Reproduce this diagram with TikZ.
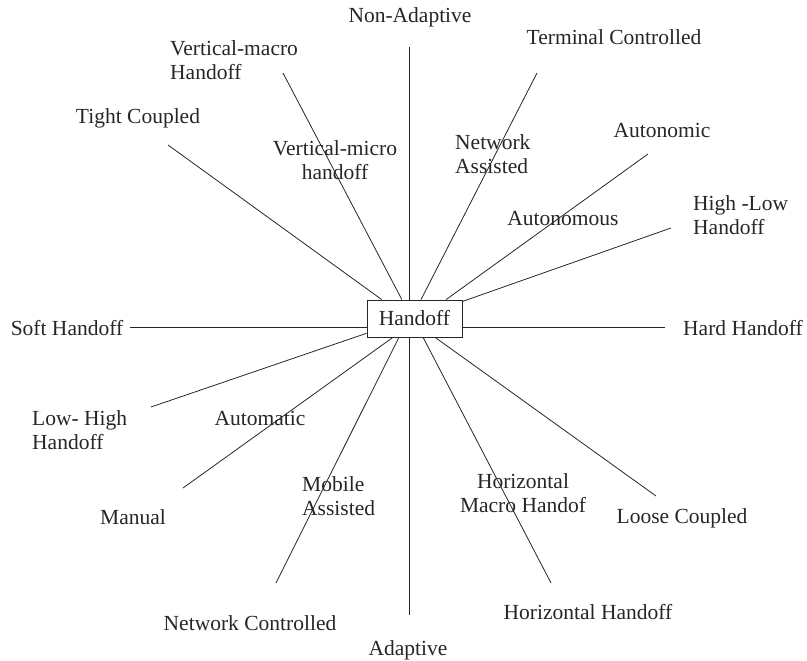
\documentclass[tikz,border=0pt]{standalone}
\usepackage{fontspec}
\setmainfont{Liberation Serif}
\usetikzlibrary{calc}
\begin{document}
\begin{tikzpicture}[x=1pt,y=-1pt,
  lbl/.style={inner sep=0pt,text=black!85,font=\fontsize{21.5}{24}\selectfont},
  lblc/.style={lbl,align=center},
  lbll/.style={lbl,align=left,anchor=west},
  spoke/.style={draw=black!85,line width=0.8pt},
  hubbox/.style={draw=black!85,line width=0.9pt,minimum width=95pt,minimum height=37pt,inner sep=0pt,
    text=black!85,font=\fontsize{21.5}{24}\selectfont}]
\useasboundingbox (0,0) rectangle (807,661);

% hub
\node[hubbox] (hub) at (414.5,318.5) {Handoff};

% free ends
\coordinate (eTight) at (168,145);
\coordinate (eVmac) at (283,73);
\coordinate (eNon) at (409,47);
\coordinate (eTerm) at (537,73);
\coordinate (eAuton) at (648,154);
\coordinate (eHL) at (671,228);
\coordinate (eHard) at (665,327.5);
\coordinate (eSoft) at (130,327.5);
\coordinate (eLH) at (151,407);
\coordinate (eMan) at (183,488);
\coordinate (eNC) at (276,583);
\coordinate (eAd) at (409,615);
\coordinate (eHor) at (551,583);
\coordinate (eLoose) at (656,496);

% spokes
\draw[spoke] (eTight) -- ($(hub.north west)!0.158!(hub.north east)$);
\draw[spoke] (eVmac) -- ($(hub.north west)!0.368!(hub.north east)$);
\draw[spoke] (eNon) -- (eNon |- hub.north);
\draw[spoke] (eTerm) -- ($(hub.north west)!0.568!(hub.north east)$);
\draw[spoke] (eAuton) -- ($(hub.north west)!0.83!(hub.north east)$);
\draw[spoke] (eHL) -- ($(hub.north east)!0.05!(hub.south east)$);
\draw[spoke] (eHard) -- (eHard -| hub.east);
\draw[spoke] (eSoft) -- (eSoft -| hub.west);
\draw[spoke] (eLH) -- ($(hub.north west)!0.89!(hub.south west)$);
\draw[spoke] (eMan) -- ($(hub.south west)!0.274!(hub.south east)$);
\draw[spoke] (eNC) -- ($(hub.south west)!0.337!(hub.south east)$);
\draw[spoke] (eAd) -- (eAd |- hub.south);
\draw[spoke] (eHor) -- ($(hub.south west)!0.59!(hub.south east)$);
\draw[spoke] (eLoose) -- ($(hub.south west)!0.716!(hub.south east)$);

% outer labels
\node[lblc] (lNon) at (410,17) {Non-Adaptive};
\node[lblc] (lTerm) at (614,37) {Terminal Controlled};
\node[lbll] (lVmac) at (170,60) {Vertical-macro\\Handoff};
\node[lblc] (lTight) at (138,118) {Tight Coupled};
\node[lblc] (lAuton) at (662,130) {Autonomic};
\node[lbll] (lHL) at (693,215) {High -Low\\Handoff};
\node[lblc] (lSoft) at (67,328) {Soft Handoff};
\node[lblc] (lHard) at (743,328) {Hard Handoff};
\node[lbll] (lLH) at (32,430) {Low- High\\Handoff};
\node[lblc] (lMan) at (133,517) {Manual};
\node[lblc] (lLoose) at (682,518) {Loose Coupled};
\node[lblc] (lHor) at (588,612) {Horizontal Handoff};
\node[lblc] (lNC) at (250,623) {Network Controlled};
\node[lblc] (lAd) at (408,650) {Adaptive};

% inner labels
\node[lblc] (lVmic) at (335,160) {Vertical-micro\\handoff};
\node[lbll] (lNA) at (455,154) {Network\\Assisted};
\node[lblc] (lAutos) at (563,219) {Autonomous};
\node[lblc] (lAutom) at (260,418) {Automatic};
\node[lbll] (lMA) at (302,496) {Mobile\\Assisted};
\node[lblc] (lHMH) at (523,493) {Horizontal\\Macro Handof};
\end{tikzpicture}
\end{document}
